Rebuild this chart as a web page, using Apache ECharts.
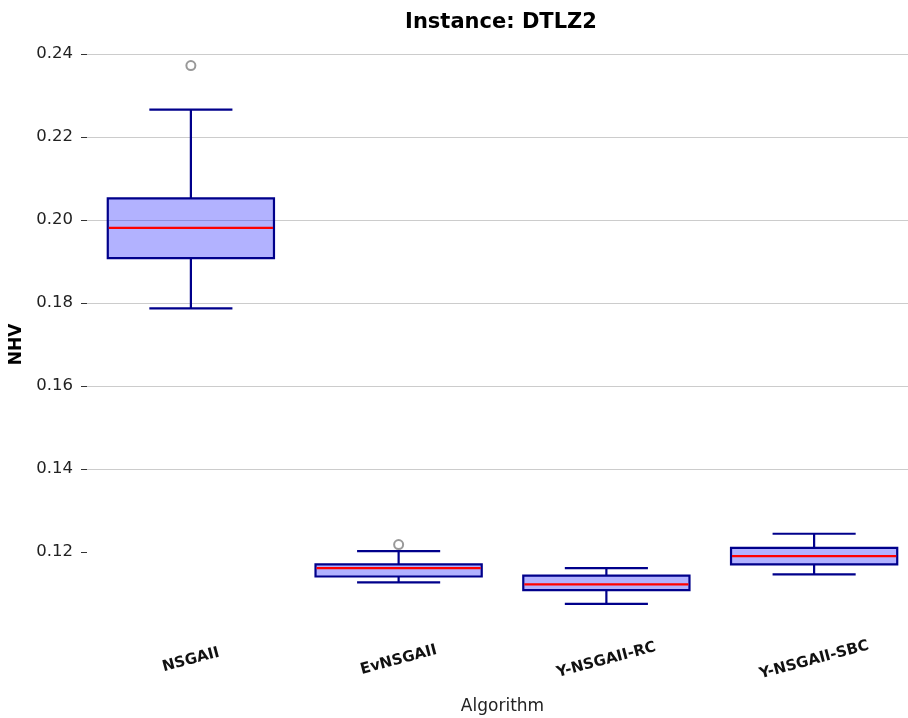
<!DOCTYPE html>
<html>
<head>
<meta charset="utf-8">
<script src="https://cdn.jsdelivr.net/npm/echarts@6/dist/echarts.min.js"></script>
<style>
  html, body { margin: 0; padding: 0; background: #fff; }
  #chart { width: 908px; height: 718px; }
</style>
</head>
<body>
<div id="chart"></div>
<script>
// Box-plot summary of normalised hypervolume per algorithm
const categories = ['NSGAII', 'EvNSGAII', 'Y-NSGAII-RC', 'Y-NSGAII-SBC'];
const lowerWhisker = [0.1787, 0.1127, 0.1075, 0.1146];
const q1 = [0.1908, 0.1141, 0.1108, 0.1170];
const median = [0.1981, 0.1161, 0.1122, 0.1190];
const q3 = [0.2052, 0.1170, 0.1143, 0.1210];
const upperWhisker = [0.2266, 0.1202, 0.1161, 0.1244];
const outliers = [[0, 0.2372], [1, 0.1218]];
const yTicks = [0.12, 0.14, 0.16, 0.18, 0.20, 0.22, 0.24];
const yTickLabels = ['0.12', '0.14', '0.16', '0.18', '0.20', '0.22', '0.24'];

const boxData = categories.map((c, i) => [i, lowerWhisker[i], q1[i], median[i], q3[i], upperWhisker[i]]);

const FONT = 'DejaVu Sans';
const EDGE = '#00008b';

function renderBox(params, api) {
  const i = api.value(0);
  const band = api.size([1, 0])[0];
  const boxW = band * 0.8;
  const capW = band * 0.4;
  const pLo = api.coord([i, api.value(1)]);
  const pQ1 = api.coord([i, api.value(2)]);
  const pMed = api.coord([i, api.value(3)]);
  const pQ3 = api.coord([i, api.value(4)]);
  const pHi = api.coord([i, api.value(5)]);
  const cx = pQ1[0];
  const line = (x1, y1, x2, y2, color) => ({
    type: 'line',
    shape: { x1, y1, x2, y2 },
    style: { stroke: color, lineWidth: 2.2 }
  });
  return {
    type: 'group',
    children: [
      line(cx, pQ1[1], cx, pLo[1], EDGE),
      line(cx, pQ3[1], cx, pHi[1], EDGE),
      line(cx - capW / 2, pLo[1], cx + capW / 2, pLo[1], EDGE),
      line(cx - capW / 2, pHi[1], cx + capW / 2, pHi[1], EDGE),
      {
        type: 'rect',
        shape: { x: cx - boxW / 2, y: pQ3[1], width: boxW, height: pQ1[1] - pQ3[1] },
        style: { fill: 'rgba(0,0,255,0.3)', stroke: EDGE, lineWidth: 2.2 }
      },
      line(cx - boxW / 2 + 1, pMed[1], cx + boxW / 2 - 1, pMed[1], '#ff0000')
    ]
  };
}

const chart = echarts.init(document.getElementById('chart'), null, { renderer: 'canvas' });
chart.setOption({
  animation: false,
  backgroundColor: '#ffffff',
  title: {
    text: 'Instance: DTLZ2',
    left: 496,
    textAlign: 'center',
    top: 7,
    textStyle: { fontFamily: FONT, fontSize: 21, fontWeight: 'bold', color: '#000' }
  },
  grid: { left: 87, width: 831, top: 54, bottom: 83, containLabel: false, outerBoundsMode: 'none' },
  xAxis: {
    type: 'category',
    data: categories,
    boundaryGap: true,
    name: 'Algorithm',
    nameLocation: 'middle',
    nameGap: 63,
    nameTextStyle: { fontFamily: FONT, fontSize: 17, color: '#222' },
    axisLine: { show: false },
    axisTick: { show: false },
    splitLine: { show: false },
    axisLabel: {
      rotate: 15,
      align: 'center',
      verticalAlign: 'middle',
      margin: 25,
      fontFamily: FONT,
      fontSize: 15,
      fontWeight: 'bold',
      color: '#111'
    }
  },
  yAxis: {
    type: 'value',
    min: 0.10,
    max: 0.24,
    interval: 0.02,
    name: 'NHV',
    nameLocation: 'middle',
    nameRotate: 90,
    nameGap: 58,
    nameTextStyle: { fontFamily: FONT, fontSize: 17, fontWeight: 'bold', color: '#000' },
    axisLine: { show: false },
    axisTick: { show: true, length: 6, lineStyle: { color: '#333', width: 1 }, customValues: yTicks },
    axisLabel: {
      customValues: yTicks,
      margin: 14,
      fontFamily: FONT,
      fontSize: 16.5,
      color: '#222',
      formatter: v => {
        const k = yTicks.findIndex(t => Math.abs(t - v) < 1e-9);
        return k >= 0 ? yTickLabels[k] : '';
      }
    },
    splitLine: { show: true, showMinLine: false, lineStyle: { color: '#cccccc', width: 1 } }
  },
  series: [
    {
      type: 'custom',
      renderItem: renderBox,
      encode: { x: 0, y: [1, 2, 3, 4, 5] },
      data: boxData,
      clip: false,
      z: 3
    },
    {
      type: 'scatter',
      data: outliers,
      symbol: 'circle',
      symbolSize: 9,
      itemStyle: { color: '#ffffff', borderColor: '#808080', borderWidth: 2 },
      z: 4
    }
  ]
});
</script>
</body>
</html>
